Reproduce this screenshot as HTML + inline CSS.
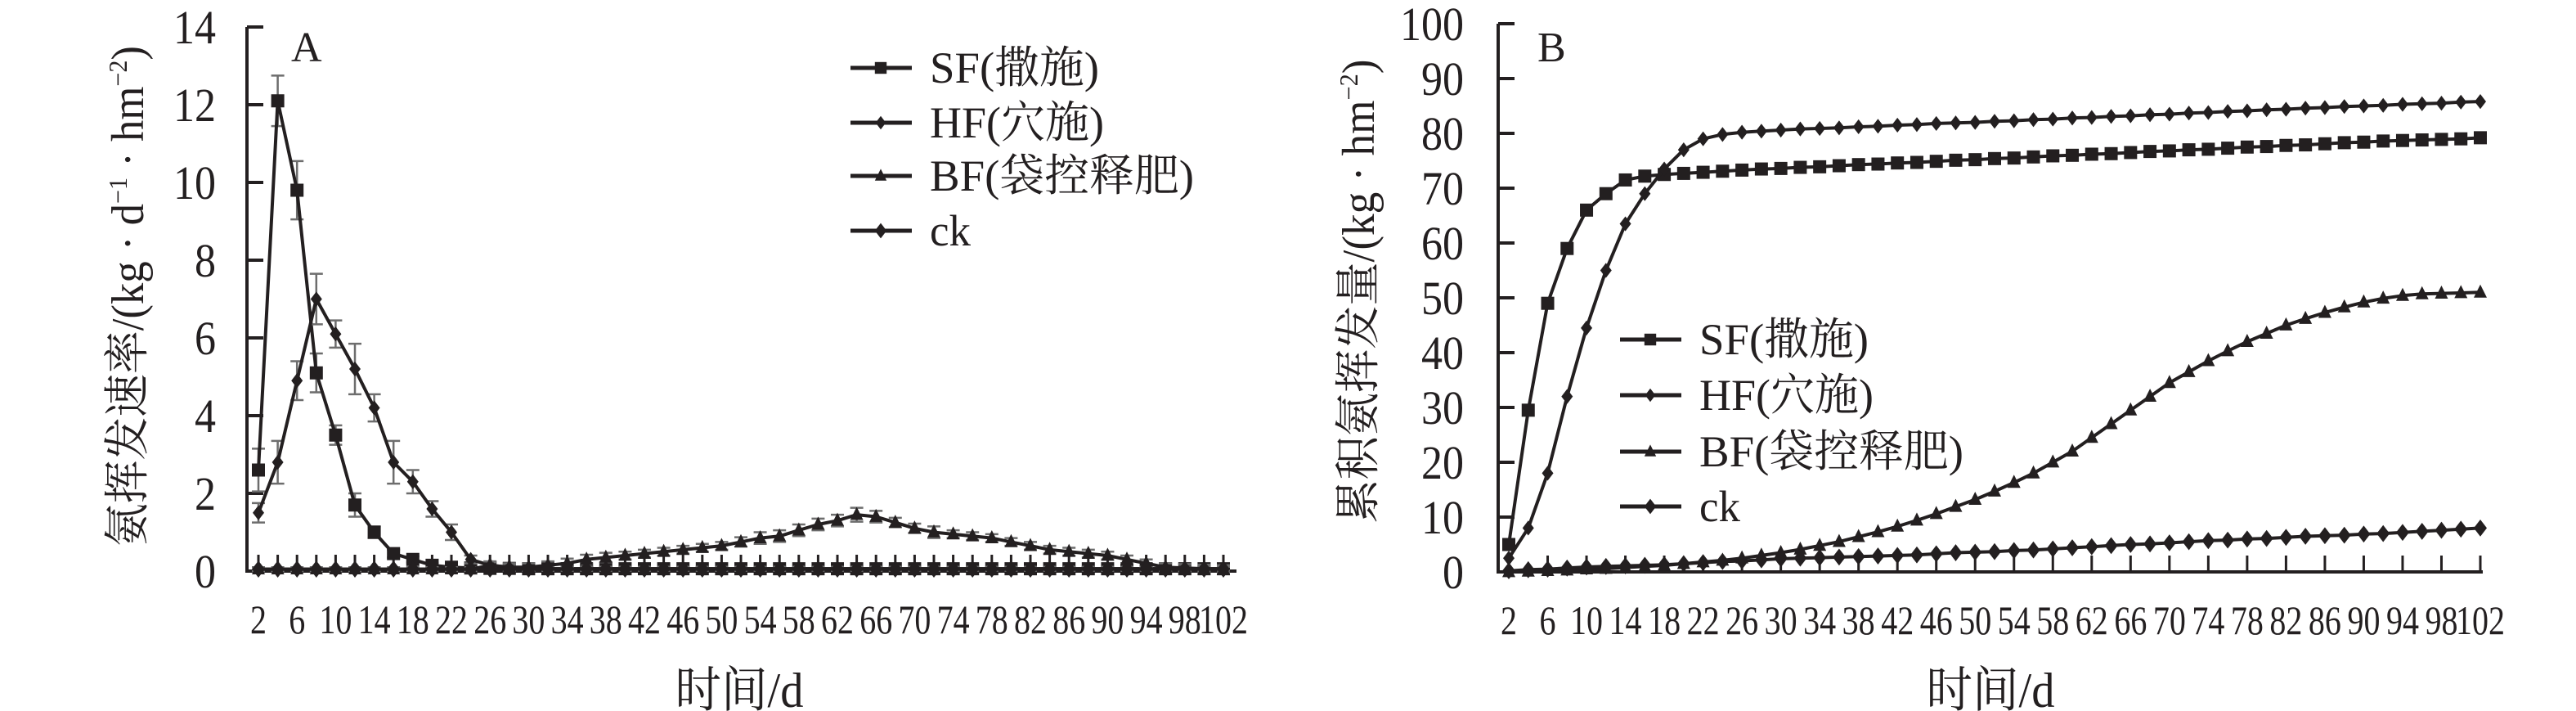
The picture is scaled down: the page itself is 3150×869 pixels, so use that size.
<!DOCTYPE html>
<html><head><meta charset="utf-8"><style>
html,body{margin:0;padding:0;background:#fff}
svg{display:block}
text{font-family:"Liberation Serif","Noto Serif CJK SC",serif;fill:#231f20}
</style></head><body>
<svg id="chart" width="3150" height="869" viewBox="0 0 3150 869" xmlns="http://www.w3.org/2000/svg"></svg>
<script>
const days = [2,4,6,8,10,12,14,16,18,20,22,24,26,28,30,32,34,36,38,40,42,44,46,48,50,52,54,56,58,60,62,64,66,68,70,72,74,76,78,80,82,84,86,88,90,92,94,96,98,100,102];
const tickLabels = ["2","6","10","14","18","22","26","30","34","38","42","46","50","54","58","62","66","70","74","78","82","86","90","94","98","102"];
const seriesNames = ["SF(撒施)","HF(穴施)","BF(袋控释肥)","ck"];
// Panel A: rate
const rateSF = [2.6,12.1,9.8,5.1,3.5,1.7,1.0,0.45,0.3,0.15,0.1,0.08,0.07,0.07,0.06,0.06,0.06,0.06,0.06,0.06,0.06,0.06,0.06,0.06,0.06,0.06,0.06,0.06,0.06,0.06,0.06,0.06,0.06,0.06,0.06,0.06,0.06,0.06,0.06,0.06,0.06,0.06,0.06,0.06,0.06,0.06,0.06,0.06,0.06,0.06,0.06];
const rateHF = [1.5,2.8,4.9,7.0,6.1,5.2,4.2,2.8,2.3,1.6,1.0,0.3,0.15,0.1,0.06,0.06,0.06,0.06,0.06,0.06,0.06,0.06,0.06,0.06,0.06,0.06,0.06,0.06,0.06,0.06,0.06,0.06,0.06,0.06,0.06,0.06,0.06,0.06,0.06,0.06,0.06,0.06,0.06,0.06,0.06,0.06,0.06,0.06,0.06,0.06,0.06];
const rateBF = [0.05,0.05,0.05,0.05,0.05,0.05,0.05,0.05,0.05,0.05,0.05,0.05,0.15,0.1,0.1,0.15,0.2,0.3,0.35,0.4,0.45,0.5,0.55,0.6,0.65,0.75,0.85,0.9,1.05,1.2,1.3,1.45,1.4,1.25,1.1,1.0,0.95,0.9,0.85,0.75,0.65,0.55,0.5,0.45,0.4,0.3,0.2,0.1,0.08,0.06,0.05];
const rateCK = [0.05,0.05,0.05,0.05,0.05,0.05,0.05,0.05,0.05,0.05,0.05,0.05,0.05,0.05,0.05,0.05,0.05,0.05,0.05,0.05,0.05,0.05,0.05,0.05,0.05,0.05,0.05,0.05,0.05,0.05,0.05,0.05,0.05,0.05,0.05,0.05,0.05,0.05,0.05,0.05,0.05,0.05,0.05,0.05,0.05,0.05,0.05,0.05,0.05,0.05,0.05];
const errSF = [0.55,0.65,0.75,0.5,0.25,0.3,0.15,0.1,0.08,0.06,0.05,0.05,0.05,0.05,0.05,0.05,0.05,0.05,0.05,0.05,0.05,0.05,0.05,0.05,0.05,0.05,0.05,0.05,0.05,0.05,0.05,0.05,0.05,0.05,0.05,0.05,0.05,0.05,0.05,0.05,0.05,0.05,0.05,0.05,0.05,0.05,0.05,0.05,0.05,0.05,0.05];
const errHF = [0.25,0.55,0.5,0.65,0.35,0.65,0.35,0.55,0.3,0.2,0.2,0.1,0.08,0.06,0.05,0.05,0.05,0.05,0.05,0.05,0.05,0.05,0.05,0.05,0.05,0.05,0.05,0.05,0.05,0.05,0.05,0.05,0.05,0.05,0.05,0.05,0.05,0.05,0.05,0.05,0.05,0.05,0.05,0.05,0.05,0.05,0.05,0.05,0.05,0.05,0.05];
const errBF = [0.05,0.05,0.05,0.05,0.05,0.05,0.05,0.05,0.05,0.05,0.05,0.05,0.1,0.1,0.1,0.1,0.12,0.12,0.12,0.1,0.1,0.1,0.1,0.1,0.1,0.12,0.15,0.15,0.15,0.15,0.15,0.18,0.15,0.12,0.12,0.15,0.1,0.1,0.1,0.1,0.1,0.1,0.1,0.1,0.1,0.1,0.1,0.1,0.1,0.1,0.1];
// Panel B: cumulative
const cumSF = [5,29.5,49,59,66,69,71.5,72.2,72.5,72.7,72.9,73.1,73.3,73.5,73.6,73.8,73.9,74.1,74.3,74.4,74.6,74.7,74.9,75.1,75.2,75.4,75.5,75.7,75.9,76.0,76.2,76.3,76.5,76.7,76.8,77.0,77.1,77.3,77.5,77.6,77.8,77.9,78.1,78.3,78.4,78.6,78.7,78.8,78.9,79.0,79.2];
const cumHF = [2.5,8,18,32,44.5,55,63.5,69,73.5,77,79,79.8,80.2,80.4,80.6,80.8,80.9,81.0,81.2,81.3,81.5,81.6,81.8,81.9,82.0,82.2,82.3,82.5,82.6,82.8,82.9,83.1,83.2,83.4,83.5,83.7,83.8,84.0,84.1,84.3,84.4,84.6,84.7,84.9,85.0,85.1,85.3,85.4,85.5,85.7,85.8];
const cumBF = [0,0.1,0.2,0.3,0.5,0.6,0.8,1.0,1.2,1.5,1.8,2.1,2.5,3,3.5,4.1,4.8,5.5,6.4,7.3,8.3,9.4,10.6,11.9,13.2,14.7,16.3,18,20,22,24.5,27,29.5,32,34.5,36.5,38.5,40.3,42,43.5,45,46.2,47.3,48.3,49.2,49.9,50.4,50.7,50.8,50.9,51];
const cumCK = [0.2,0.4,0.5,0.7,0.9,1.0,1.1,1.2,1.3,1.5,1.7,1.9,2.0,2.2,2.4,2.5,2.6,2.7,2.8,2.9,3.0,3.1,3.3,3.5,3.6,3.7,3.9,4.0,4.2,4.4,4.6,4.8,5.0,5.1,5.3,5.5,5.7,5.8,6.0,6.1,6.3,6.5,6.6,6.7,6.9,7.0,7.2,7.4,7.6,7.8,8.0];
const yTicksA = [0,2,4,6,8,10,12,14];
const yTicksB = [0,10,20,30,40,50,60,70,80,90,100];

const NS = "http://www.w3.org/2000/svg";
const svg = document.getElementById("chart");
const C = "#231f20";
function mk(tag, attrs, parent){const e=document.createElementNS(NS,tag);for(const k in attrs)e.setAttribute(k,attrs[k]);(parent||svg).appendChild(e);return e;}

function marker(g, shape, x, y, s){
  let e;
  if(shape==="square"){e=mk("rect",{x:x-s,y:y-s,width:2*s,height:2*s,fill:C},g);}
  else if(shape==="diamond"){e=mk("polygon",{points:`${x},${y-s*1.3} ${x+s},${y} ${x},${y+s*1.3} ${x-s},${y}`,fill:C},g);}
  else if(shape==="triangle"){e=mk("polygon",{points:`${x},${y-s*1.2} ${x+s},${y+s*0.8} ${x-s},${y+s*0.8}`,fill:C},g);}
  else {e=mk("circle",{cx:x,cy:y,r:s*0.85,fill:C},g);}
  return e;
}

function panel(cfg){
  const g = mk("g",{});
  
  
  const xs = i => cfg.x0 + i*cfg.step;
  const ys = v => cfg.yb - (v - 0)/(cfg.ymax)*(cfg.yb-cfg.yt);
  const ax = mk("path",{d:`M${cfg.ax},${cfg.yt} V${cfg.yb} H${cfg.axEnd}`,stroke:C,"stroke-width":4,fill:"none"},g);
  
  
  cfg.yTicks.forEach(v=>{
    const y=ys(v);
    const t=mk("line",{x1:cfg.ax,x2:cfg.ax+20,y1:y,y2:y,stroke:C,"stroke-width":4},g);
    
    
    const s=String(v);
    const l=mk("text",{x:cfg.ylabX,y:y+20,"text-anchor":"end","font-size":58,textLength:s.length*26,lengthAdjust:"spacingAndGlyphs"},g);
    l.textContent=s;
    
    
  });
  for(let i=0;i<days.length;i+=cfg.tickEvery){
    const x=xs(i);
    const t=mk("line",{x1:x,x2:x,y1:cfg.yb,y2:cfg.yb-20,stroke:C,"stroke-width":3},g);
    
    
  }
  tickLabels.forEach((lab,k)=>{
    const x=xs(k*2);
    const l=mk("text",{x:x,y:cfg.yb+76,"text-anchor":"middle","font-size":50,textLength:lab.length*20,lengthAdjust:"spacingAndGlyphs"},g);
    l.textContent=lab;
    
    
  });
  cfg.series.forEach((s,si)=>{
    const sg=mk("g",{},g);
    
    
    if(s.err){
      s.vals.forEach((v,i)=>{
        const x=xs(i), e=s.err[i];
        const eb=mk("path",{d:`M${x},${ys(v+e)} V${ys(v-e)} M${x-8},${ys(v+e)} H${x+8} M${x-8},${ys(v-e)} H${x+8}`,stroke:"#6d6d6d","stroke-width":2.5,fill:"none"},sg);
        
        
      });
    }
    const d=s.vals.map((v,i)=>(i?"L":"M")+xs(i).toFixed(1)+","+ys(v).toFixed(1)).join(" ");
    const ln=mk("path",{d:d,stroke:C,"stroke-width":4,fill:"none","stroke-linejoin":"round"},sg);
    
    
    s.vals.forEach((v,i)=>{
      const m=marker(sg,s.shape,xs(i),ys(v),s.size);
      
      
    });
  });
  cfg.series.forEach((s,si)=>{
    const y=cfg.legY[si];
    const lg=mk("g",{},g);
    
    
    mk("line",{x1:cfg.legX,x2:cfg.legX+75,y1:y,y2:y,stroke:C,"stroke-width":5},lg);
    marker(lg,s.shape,cfg.legX+37,y,s.size*0.9);
    const t=mk("text",{x:cfg.legX+97,y:y+18,"font-size":54,textLength:cfg.legW[si],lengthAdjust:"spacingAndGlyphs"},lg);
    t.textContent=seriesNames[si];
  });
  const pl=mk("text",{x:cfg.px,y:75,"font-size":52},g);
  pl.textContent=cfg.letter;
  
  
  const xt=mk("text",{x:cfg.xtX,y:864,"text-anchor":"middle","font-size":60,textLength:157,lengthAdjust:"spacingAndGlyphs"},g);
  xt.textContent="时间/d";
  
  
  const yt=mk("text",{x:0,y:0,"text-anchor":"middle","font-size":56,transform:`translate(${cfg.ytX},${cfg.ytY}) rotate(-90)`,textLength:cfg.ytW,lengthAdjust:"spacingAndGlyphs"},g);
  yt.innerHTML=cfg.ytitle;
  
  
}

panel({name:"panel-a-rate",letter:"A",x0:316,step:23.6,ax:302,axEnd:1512,yt:33,yb:698,ymax:14,yTicks:yTicksA,ylabX:264,tickEvery:1,
  series:[{key:"sf",vals:rateSF,err:errSF,shape:"square",size:8},{key:"hf",vals:rateHF,err:errHF,shape:"diamond",size:7},{key:"bf",vals:rateBF,err:errBF,shape:"triangle",size:8},{key:"ck",vals:rateCK,shape:"diamond",size:8}],
  legX:1040,legY:[83,150,215,282],legW:[207,213,323,50],px:356,xtX:904,ytX:175,ytY:362,ytW:612,
  ytitle:'氨挥发速率/(kg · d<tspan font-size="32" dy="-20">−1</tspan><tspan dy="20"> · hm</tspan><tspan font-size="32" dy="-20">−2</tspan><tspan dy="20">)</tspan>'});
panel({name:"panel-b-cumulative",letter:"B",x0:1845,step:23.76,ax:1832,axEnd:3036,yt:29,yb:699,ymax:100,yTicks:yTicksB,ylabX:1790,tickEvery:2,
  series:[{key:"sf",vals:cumSF,shape:"square",size:8},{key:"hf",vals:cumHF,shape:"diamond",size:7},{key:"bf",vals:cumBF,shape:"triangle",size:8},{key:"ck",vals:cumCK,shape:"diamond",size:8}],
  legX:1981,legY:[415,483,552,619],legW:[207,213,323,50],px:1880,xtX:2434,ytX:1680,ytY:356,ytW:567,
  ytitle:'累积氨挥发量/(kg · hm<tspan font-size="32" dy="-20">−2</tspan><tspan dy="20">)</tspan>'});
</script>
</body></html>
